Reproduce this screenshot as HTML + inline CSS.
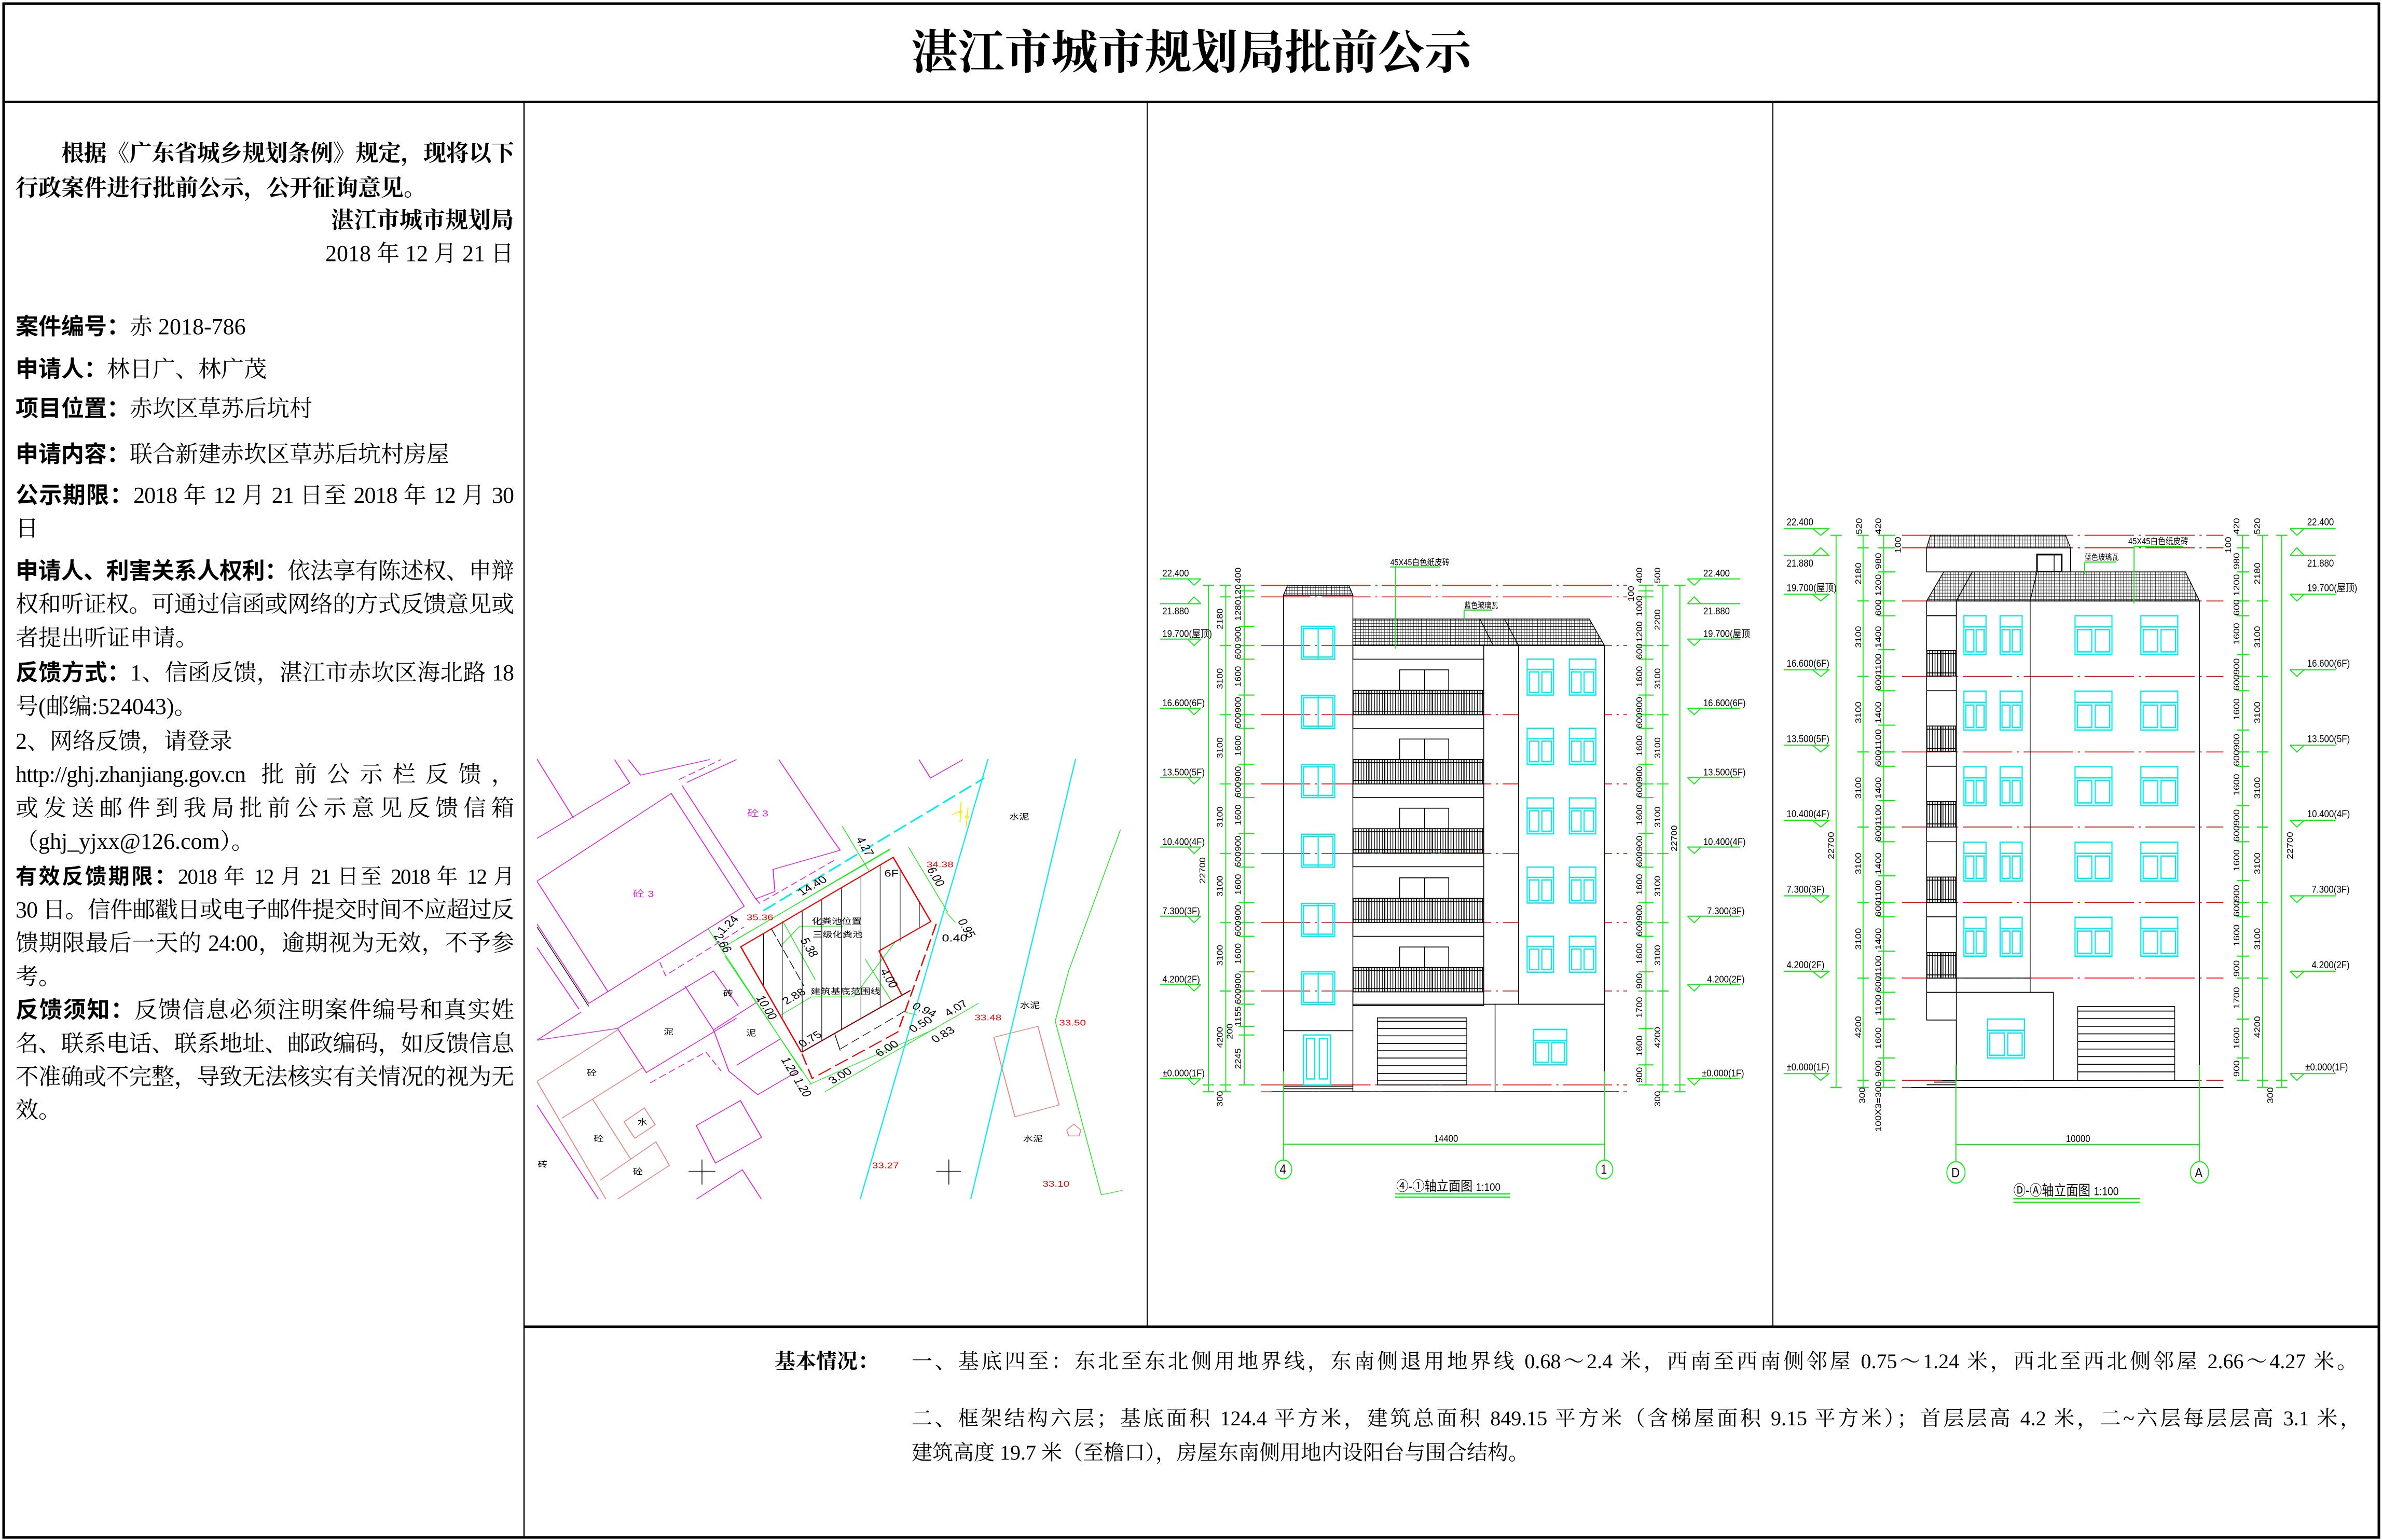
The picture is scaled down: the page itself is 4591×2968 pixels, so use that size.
<!DOCTYPE html>
<html><head><meta charset="utf-8">
<style>
html,body{margin:0;padding:0;background:#fff;}
#pg{position:relative;width:4591px;height:2968px;overflow:hidden;background:#fff;}
.t{position:absolute;font-family:"Liberation Serif","Noto Serif CJK SC",serif;font-size:44px;line-height:60px;white-space:nowrap;color:#000;}
.j{text-align:justify;text-align-last:justify;width:960px;left:30px;letter-spacing:-1px;}
.l{left:30px;}
.r{text-align:right;width:960px;left:30px;}
b{font-family:"Liberation Sans","Noto Sans CJK SC",sans-serif;font-weight:bold;}
.bt{position:absolute;font-family:"Liberation Serif","Noto Serif CJK SC",serif;font-size:40px;line-height:56px;white-space:nowrap;text-align:justify;text-align-last:justify;}
svg{position:absolute;left:0;top:0;}
</style></head><body><div id="pg">
<svg width="4591" height="2968" viewBox="0 0 4591 2968" font-family="Liberation Sans, Noto Sans CJK SC, sans-serif">
<defs>
<pattern id="tile" width="7" height="7" patternUnits="userSpaceOnUse"><rect width="7" height="7" fill="#fff"/><path d="M0 0H7M0 0V7" stroke="#000" stroke-width="2"/></pattern>
<pattern id="rail" width="7" height="10" patternUnits="userSpaceOnUse"><rect width="7" height="10" fill="#fff"/><path d="M2 0V10" stroke="#000" stroke-width="2"/></pattern>
<g id="wt" fill="none" stroke="#0ee" stroke-width="3"><rect width="88" height="77"/><rect x="5" y="5" width="78" height="67"/><line x1="44" y1="0" x2="44" y2="77"/></g>
<g id="wr" fill="none" stroke="#0ee" stroke-width="3"><rect width="70" height="84"/><line x1="0" y1="24" x2="70" y2="24"/><rect x="6" y="30" width="25" height="48"/><rect x="39" y="30" width="25" height="48"/></g>
<g id="ws" fill="none" stroke="#0ee" stroke-width="3"><rect width="58" height="87"/><line x1="0" y1="25" x2="58" y2="25"/><rect x="5" y="31" width="21" height="50"/><rect x="32" y="31" width="21" height="50"/></g>
<g id="wb" fill="none" stroke="#0ee" stroke-width="3"><rect width="97" height="87"/><line x1="0" y1="25" x2="97" y2="25"/><rect x="6" y="31" width="38" height="50"/><rect x="53" y="31" width="38" height="50"/></g>
<g id="bal" stroke="#000" stroke-width="2"><rect x="657" y="305" width="130" height="48" fill="#fff"/><line x1="723" y1="305" x2="723" y2="353"/><rect x="533" y="353" width="347" height="57" fill="url(#rail)"/><path d="M533 360H880M533 402H880M575 353V410M617 353V410M659 353V410M701 353V410M743 353V410M785 353V410M827 353V410" fill="none"/><rect x="533" y="410" width="347" height="32" fill="none"/></g>
<g id="bal2" stroke="#000" stroke-width="2"><rect x="400" y="318" width="76" height="57" fill="url(#rail)"/><path d="M400 325H476M400 368H476M438 318V375" fill="none"/></g>
<clipPath id="cp"><rect x="20" y="40" width="1525" height="1495"/></clipPath>
</defs>

<g fill="none" stroke="#000">
<rect x="7" y="7" width="4578" height="2956" stroke-width="5"/>
<line x1="7" y1="196" x2="4585" y2="196" stroke-width="4"/>
<line x1="1010" y1="196" x2="1010" y2="2963" stroke-width="2.5"/>
<line x1="2211" y1="196" x2="2211" y2="2557" stroke-width="2"/>
<line x1="3417" y1="196" x2="3417" y2="2557" stroke-width="2"/>
<line x1="1010" y1="2557" x2="4585" y2="2557" stroke-width="5"/>
</g>
<text x="2296" y="132" font-size="90" font-weight="bold" text-anchor="middle" font-family="Liberation Serif, Noto Serif CJK SC, serif">湛江市城市规划局批前公示</text>

<!-- SITE PLAN -->
<g transform="translate(1020,1440) scale(0.740,0.5676)">
<g clip-path="url(#cp)" fill="none" stroke-width="2.5">
<g stroke="#e020e0">
<polyline points="20,40 115,240"/>
<polyline points="222,42 262,122 20,310"/>
<polyline points="258,42 290,95 470,42"/>
<polygon points="20,455 370,157 560,540 205,830"/>
<polyline points="20,600 155,870 205,830"/>
<polyline points="20,995 135,900"/>
<polyline points="20,680 130,890"/>
<polyline points="398,130 590,515 640,490 635,415 810,350 780,295 650,42"/>
<polyline points="590,515 600,530 800,380" stroke-dasharray="20 10"/>
<polyline points="390,110 500,42" stroke-dasharray="20 10"/>
<polyline points="410,120 540,42"/>
<polyline points="340,730 355,775 560,610" stroke-dasharray="20 10"/>
<polyline points="20,995 230,955 480,760 545,880"/>
<polyline points="230,955 305,1105 540,920"/>
<polyline points="405,810 480,960 600,860"/>
<polyline points="480,960 520,1100 595,1180 700,1100"/>
<polyline points="315,1140 460,1035 500,1100" stroke-dasharray="20 10"/>
<polyline points="540,1080 655,990"/>
<polygon points="435,1285 550,1200 605,1325 485,1412"/>
<polyline points="435,1535 555,1435 605,1535"/>
<polyline points="1015,42 1045,105 1130,42"/>
<polyline points="20,1215 180,1535"/>
</g>
<g stroke="#f08080">
<polyline points="20,1135 230,960"/>
<polyline points="20,1135 200,1535"/>
<polyline points="85,1260 300,1085"/>
<polyline points="165,1195 265,1400"/>
<polyline points="185,1470 330,1340 365,1420 230,1535"/>
<polygon points="247,1272 300,1225 328,1282 275,1328"/>
<polygon points="1210,985 1325,948 1380,1215 1265,1255"/>
<polygon points="1400,1300 1418,1280 1437,1300 1432,1320 1405,1320"/>
</g>
<g stroke="#1e1" stroke-width="2">
<polyline points="1540,280 1405,760 1370,930 1490,1520 1545,1505"/>
<line x1="540" y1="652" x2="940" y2="348"/>
<line x1="505" y1="680" x2="940" y2="345"/>
<line x1="465" y1="615" x2="710" y2="1100"/>
<line x1="510" y1="710" x2="735" y2="1145"/>
<line x1="815" y1="268" x2="885" y2="420"/>
<line x1="988" y1="340" x2="1090" y2="560"/>
<line x1="1085" y1="560" x2="1110" y2="595"/>
<line x1="660" y1="590" x2="745" y2="790"/>
<line x1="770" y1="1170" x2="1170" y2="870"/>
<line x1="730" y1="1145" x2="1060" y2="955"/>
<line x1="875" y1="720" x2="945" y2="865"/>
<line x1="735" y1="848" x2="845" y2="848"/>
<line x1="845" y1="848" x2="955" y2="658"/>
<line x1="655" y1="910" x2="735" y2="848"/>
<line x1="705" y1="608" x2="818" y2="608"/>
<line x1="655" y1="675" x2="705" y2="608"/>
<line x1="980" y1="900" x2="1010" y2="910"/>
</g>
<g stroke="#0ee" stroke-width="3">
<line x1="1195" y1="40" x2="862" y2="1535"/>
<line x1="1423" y1="40" x2="1150" y2="1535"/>
<line x1="610" y1="555" x2="1185" y2="105" stroke-width="5" stroke-dasharray="40 14"/>
</g>
<g stroke="#000" stroke-width="2">
<line x1="20" y1="610" x2="155" y2="880"/>
<line x1="415" y1="1440" x2="485" y2="1440"/><line x1="450" y1="1400" x2="450" y2="1485"/>
<line x1="1060" y1="1440" x2="1125" y2="1440"/><line x1="1093" y1="1400" x2="1093" y2="1485"/>
<path d="M610 633V812M659 595V922M711 555V1034M762 516V997M813 477V959M864 438V921M914 400V884M966 414V660M1016 525V610" stroke-width="1.6"/>
<line x1="630" y1="615" x2="715" y2="810" stroke-dasharray="30 10"/>
<line x1="810" y1="1025" x2="980" y2="895" stroke-dasharray="25 12"/>
<line x1="796" y1="975" x2="810" y2="1030"/>
</g>
<g stroke="#e00" stroke-width="3.5">
<polyline points="709,1036 551,678 948,374 1046,592 911,692 970,840"/>
<line x1="709" y1="1036" x2="993" y2="826" stroke="#800"/>
<polyline points="1060,600 960,967 737,1125 709,1036" stroke-dasharray="40 14"/>
</g>
<g stroke="#ee0" stroke-width="2.5"><line x1="1125" y1="185" x2="1122" y2="255"/><line x1="1143" y1="205" x2="1138" y2="270"/><line x1="1100" y1="230" x2="1125" y2="215"/><circle cx="1124" cy="220" r="4"/><circle cx="1140" cy="237" r="4"/></g>
</g>
<g clip-path="url(#cp)" font-size="30">
<text x="568" y="235" fill="#e020e0">砼 3</text>
<text x="270" y="508" fill="#e020e0">砼 3</text>
<text x="925" y="440" font-size="32">6F</text>
<g fill="#e00" font-size="28"><text x="566" y="588">35.36</text><text x="1035" y="408">34.38</text><text x="1160" y="928">33.48</text><text x="1380" y="945">33.50</text><text x="893" y="1430">33.27</text><text x="1337" y="1492">33.10</text></g>
<g font-size="26"><text x="736" y="600">化粪池位置</text><text x="738" y="645">三级化粪池</text><text x="733" y="838">建筑基底范围线</text>
<text x="1250" y="245">水泥</text><text x="1278" y="885">水泥</text><text x="1286" y="1338">水泥</text>
<text x="505" y="845">砖</text><text x="350" y="975">泥</text><text x="565" y="980">泥</text><text x="150" y="1115">砼</text><text x="168" y="1338">砼</text><text x="282" y="1282">水</text><text x="270" y="1450">砼</text><text x="22" y="1425">砖</text></g>
<g font-size="34">
<text transform="translate(710,505) rotate(-37)">14.40</text>
<text transform="translate(1035,415) rotate(65)">6.00</text>
<text transform="translate(850,312) rotate(65)">4.27</text>
<text transform="translate(590,850) rotate(65)">10.00</text>
<text transform="translate(705,655) rotate(65)">5.38</text>
<text transform="translate(670,875) rotate(-37)">2.88</text>
<text transform="translate(913,760) rotate(65)">4.00</text>
<text transform="translate(712,1020) rotate(-37)">0.75</text>
<text transform="translate(655,1060) rotate(65)">1.20</text>
<text transform="translate(688,1130) rotate(65)">1.20</text>
<text transform="translate(790,1145) rotate(-37)">3.00</text>
<text transform="translate(912,1052) rotate(-37)">6.00</text>
<text transform="translate(995,885) rotate(30)">0.94</text>
<text transform="translate(1000,970) rotate(-37)">0.50</text>
<text transform="translate(1058,1005) rotate(-37)">0.83</text>
<text transform="translate(1092,915) rotate(-37)">4.07</text>
<text transform="translate(1115,590) rotate(65)">0.95</text>
<text transform="translate(1075,660)">0.40</text>
<text transform="translate(480,640) rotate(65)">2.66</text>
<text transform="translate(505,635) rotate(-50)">1.24</text>
</g>
</g>
</g>

<!-- ELEVATION 1 -->
<g transform="translate(2220,1040) scale(0.727,0.823)">
<g stroke="#f00" stroke-width="2" stroke-dasharray="130 12 6 12">
<path d="M290 107H1260M290 134H1260M290 248H1260M290 410H1260M290 572H1260M290 735H1260M290 897H1260M290 1057H1260M290 1277H1260M290 1293H1260"/>
</g>
<g stroke="#000" stroke-width="2" fill="none">
<polygon points="349,130 360,107 522,107 533,130" fill="url(#tile)"/>
<rect x="349" y="130" width="184" height="1020"/>
<line x1="349" y1="1150" x2="349" y2="1293"/>
<polygon points="533,248 533,186 1160,186 1200,248" fill="url(#tile)"/>
<line x1="870" y1="186" x2="905" y2="248"/><line x1="935" y1="186" x2="972" y2="248"/>
<rect x="972" y="248" width="228" height="840" fill="#fff"/>
<rect x="533" y="248" width="347" height="32"/>
<line x1="880" y1="280" x2="880" y2="1088"/>
<line x1="533" y1="1088" x2="910" y2="1088"/>
<line x1="533" y1="1150" x2="533" y2="1293"/>
<rect x="910" y="1088" width="290" height="205"/>
<line x1="318" y1="1293" x2="1237" y2="1293"/>
<path d="M349 1280H533M349 1286H533"/>
<rect x="598" y="1120" width="237" height="157"/>
<path d="M598 1128H835M598 1145H835M598 1162H835M598 1180H835M598 1197H835M598 1214H835M598 1232H835M598 1250H835M598 1266H835"/>
</g>
<use href="#bal"/><use href="#bal" y="162"/><use href="#bal" y="324"/><use href="#bal" y="487"/><use href="#bal" y="649"/>
<use href="#wt" x="397" y="203"/><use href="#wt" x="397" y="365"/><use href="#wt" x="397" y="527"/><use href="#wt" x="397" y="690"/><use href="#wt" x="397" y="852"/><use href="#wt" x="397" y="1012"/>
<use href="#wr" x="995" y="280"/><use href="#wr" x="1107" y="280"/><use href="#wr" x="995" y="442"/><use href="#wr" x="1107" y="442"/><use href="#wr" x="995" y="605"/><use href="#wr" x="1107" y="605"/><use href="#wr" x="995" y="767"/><use href="#wr" x="1107" y="767"/><use href="#wr" x="995" y="929"/><use href="#wr" x="1107" y="929"/>
<g fill="none" stroke="#0ee" stroke-width="3"><rect x="402" y="1160" width="72" height="117"/><rect x="410" y="1168" width="22" height="95"/><rect x="444" y="1168" width="22" height="95"/>
<rect x="1012" y="1147" width="88" height="83"/><line x1="1012" y1="1173" x2="1100" y2="1173"/><rect x="1018" y="1178" width="34" height="46"/><rect x="1060" y="1178" width="34" height="46"/></g>
<g stroke="#1e1" stroke-width="2.5" fill="none">
<path d="M646 62V255M632 64H765M828 165H903M828 165V190"/>
<path d="M150 107V1293M196 107V1293M245 107V1277M1310 107V1277M1355 107V1293M1400 107V1293"/>
<path d="M135 107H165M135 1277H165M135 1293H165M180 107H210M180 134H210M180 248H210M180 410H210M180 572H210M180 735H210M180 897H210M180 1057H210M180 1277H210M180 1293H210"/>
<path d="M230 107H272M230 120H272M230 134H272M230 203H272M230 248H272M230 280H272M230 364H272M230 410H272M230 442H272M230 526H272M230 572H272M230 604H272M230 688H272M230 735H272M230 767H272M230 850H272M230 897H272M230 929H272M230 1012H272M230 1057H272M230 1088H272M230 1140H272M230 1160H272M230 1277H272"/>
<path d="M1290 107H1330M1290 120H1330M1290 134H1330M1290 248H1330M1290 280H1330M1290 364H1330M1290 410H1330M1290 442H1330M1290 526H1330M1290 572H1330M1290 604H1330M1290 688H1330M1290 735H1330M1290 767H1330M1290 850H1330M1290 897H1330M1290 929H1330M1290 1012H1330M1290 1057H1330M1290 1145H1330M1290 1230H1330M1290 1277H1330"/>
<path d="M1340 107H1370M1340 248H1370M1340 410H1370M1340 572H1370M1340 735H1370M1340 897H1370M1340 1057H1370M1340 1277H1370M1340 1293H1370M1385 107H1415M1385 1277H1415M1385 1293H1415"/>
<path d="M22 92H130M22 150H130M22 233H130M22 395H130M22 557H130M22 720H130M22 882H130M22 1042H130M22 1262H130"/>
<path d="M95 92L112 107L130 92M95 150L112 134L130 150M95 233L112 248L130 233M95 395L112 410L130 395M95 557L112 572L130 557M95 720L112 735L130 720M95 882L112 897L130 882M95 1042L112 1057L130 1042M95 1262L112 1277L130 1262"/>
<path d="M1420 92H1560M1420 150H1560M1420 233H1560M1420 395H1560M1420 557H1560M1420 720H1560M1420 882H1560M1420 1042H1560M1420 1262H1560"/>
<path d="M1420 92L1438 107L1455 92M1420 150L1438 134L1455 150M1420 233L1438 248L1455 233M1420 395L1438 410L1455 395M1420 557L1438 572L1455 557M1420 720L1438 735L1455 720M1420 882L1438 897L1455 882M1420 1042L1438 1057L1455 1042M1420 1262L1438 1277L1455 1262"/>
<path d="M349 1245V1453M1200 1245V1453M349 1416H1200"/>
<circle cx="349" cy="1475" r="22"/><circle cx="1200" cy="1475" r="22"/>
<path d="M645 1532H950M645 1540H950" stroke-width="3"/>
</g>
<g font-size="23" fill="#000">
<text x="28" y="86">22.400</text><text x="28" y="175">21.880</text><text x="28" y="228">19.700(屋顶)</text><text x="28" y="390">16.600(6F)</text><text x="28" y="552">13.500(5F)</text><text x="28" y="715">10.400(4F)</text><text x="28" y="877">7.300(3F)</text><text x="28" y="1037">4.200(2F)</text><text x="28" y="1257">±0.000(1F)</text>
<text x="1462" y="86">22.400</text><text x="1462" y="175">21.880</text><text x="1462" y="228">19.700(屋顶</text><text x="1462" y="390">16.600(6F)</text><text x="1462" y="552">13.500(5F)</text><text x="1462" y="715">10.400(4F)</text><text x="1472" y="877">7.300(3F)</text><text x="1472" y="1037">4.200(2F)</text><text x="1458" y="1257">±0.000(1F)</text>
<text x="632" y="60" font-size="20">45X45白色纸皮砖</text><text x="828" y="160" font-size="18">蓝色玻璃瓦</text>
<text x="748" y="1410">14400</text>
<text x="339" y="1485" font-size="30">4</text><text x="1190" y="1485" font-size="30">1</text>
<text x="648" y="1525" font-size="32">④-①轴立面图 <tspan font-size="26">1:100</tspan></text>
</g>
<g font-size="22" fill="#000">
<text transform="translate(188,210) rotate(-90)">2180</text>
<text transform="translate(188,350) rotate(-90)">3100</text><text transform="translate(188,512) rotate(-90)">3100</text><text transform="translate(188,674) rotate(-90)">3100</text><text transform="translate(188,836) rotate(-90)">3100</text><text transform="translate(188,998) rotate(-90)">3100</text><text transform="translate(188,1190) rotate(-90)">4200</text>
<text transform="translate(142,805) rotate(-90)">22700</text><text transform="translate(188,1328) rotate(-90)">300</text>
<text transform="translate(236,102) rotate(-90)">400</text><text transform="translate(236,190) rotate(-90)">1280120</text>
<text transform="translate(236,240) rotate(-90)">900</text><text transform="translate(236,280) rotate(-90)">600</text><text transform="translate(236,345) rotate(-90)">1600</text><text transform="translate(236,405) rotate(-90)">900</text><text transform="translate(236,442) rotate(-90)">600</text><text transform="translate(236,507) rotate(-90)">1600</text><text transform="translate(236,567) rotate(-90)">900</text><text transform="translate(236,604) rotate(-90)">600</text><text transform="translate(236,669) rotate(-90)">1600</text><text transform="translate(236,730) rotate(-90)">900</text><text transform="translate(236,767) rotate(-90)">600</text><text transform="translate(236,832) rotate(-90)">1600</text><text transform="translate(236,892) rotate(-90)">900</text><text transform="translate(236,929) rotate(-90)">600</text><text transform="translate(236,994) rotate(-90)">1600</text><text transform="translate(236,1052) rotate(-90)">900</text><text transform="translate(236,1088) rotate(-90)">600</text><text transform="translate(236,1140) rotate(-90)">1155</text><text transform="translate(214,1170) rotate(-90)">200</text><text transform="translate(236,1240) rotate(-90)">2245</text>
<text transform="translate(1300,102) rotate(-90)">400</text><text transform="translate(1278,145) rotate(-90)">100</text><text transform="translate(1300,180) rotate(-90)">1000</text><text transform="translate(1300,240) rotate(-90)">1200</text><text transform="translate(1300,280) rotate(-90)">600</text><text transform="translate(1300,345) rotate(-90)">1600</text><text transform="translate(1300,405) rotate(-90)">900</text><text transform="translate(1300,442) rotate(-90)">600</text><text transform="translate(1300,507) rotate(-90)">1600</text><text transform="translate(1300,567) rotate(-90)">900</text><text transform="translate(1300,604) rotate(-90)">600</text><text transform="translate(1300,669) rotate(-90)">1600</text><text transform="translate(1300,730) rotate(-90)">900</text><text transform="translate(1300,767) rotate(-90)">600</text><text transform="translate(1300,832) rotate(-90)">1600</text><text transform="translate(1300,892) rotate(-90)">900</text><text transform="translate(1300,929) rotate(-90)">600</text><text transform="translate(1300,994) rotate(-90)">1600</text><text transform="translate(1300,1052) rotate(-90)">900</text><text transform="translate(1300,1120) rotate(-90)">1700</text><text transform="translate(1300,1210) rotate(-90)">1600</text><text transform="translate(1300,1272) rotate(-90)">900</text>
<text transform="translate(1348,102) rotate(-90)">500</text><text transform="translate(1348,212) rotate(-90)">2200</text><text transform="translate(1348,350) rotate(-90)">3100</text><text transform="translate(1348,512) rotate(-90)">3100</text><text transform="translate(1348,674) rotate(-90)">3100</text><text transform="translate(1348,836) rotate(-90)">3100</text><text transform="translate(1348,998) rotate(-90)">3100</text><text transform="translate(1348,1190) rotate(-90)">4200</text><text transform="translate(1348,1328) rotate(-90)">300</text><text transform="translate(1392,730) rotate(-90)">22700</text>
</g>
</g>

<!-- ELEVATION 2 -->
<g transform="translate(3420,980) scale(0.7334,0.861)">
<g stroke="#f00" stroke-width="2" stroke-dasharray="130 12 6 12">
<path d="M335 60H1180M335 88H1180M335 207H1180M335 376H1180M335 545H1180M335 713H1180M335 882H1180M335 1051H1180M335 1280H1180M335 1296H1180"/>
</g>
<g stroke="#000" stroke-width="2" fill="none">
<polygon points="400,88 410,60 765,60 778,88" fill="url(#tile)"/>
<rect x="400" y="88" width="378" height="54"/>
<rect x="690" y="103" width="65" height="39" stroke-width="4"/><line x1="735" y1="103" x2="735" y2="142"/>
<polygon points="400,207 445,142 1080,142 1117,207" fill="url(#tile)"/>
<line x1="520" y1="142" x2="478" y2="207"/><line x1="690" y1="142" x2="672" y2="207"/>
<path d="M400 207V1145H478V1280"/>
<rect x="478" y="207" width="639" height="1073"/>
<path d="M672 207V1083M400 1083H733V1280M478 207V1083M400 240H478M400 408H478M400 577H478M400 746H478M400 914H478M400 1051H672"/>
<line x1="360" y1="1296" x2="1180" y2="1296"/>
<path d="M400 1290H478M420 1284H478M440 1280H478"/>
<rect x="797" y="1115" width="255" height="165"/>
<path d="M797 1125H1052M797 1142H1052M797 1159H1052M797 1176H1052M797 1193H1052M797 1210H1052M797 1227H1052M797 1244H1052M797 1261H1052"/>
</g>
<use href="#bal2"/><use href="#bal2" y="169"/><use href="#bal2" y="338"/><use href="#bal2" y="507"/><use href="#bal2" y="676"/>
<use href="#ws" x="498" y="240"/><use href="#ws" x="593" y="240"/><use href="#wb" x="790" y="240"/><use href="#wb" x="963" y="240"/>
<use href="#ws" x="498" y="409"/><use href="#ws" x="593" y="409"/><use href="#wb" x="790" y="409"/><use href="#wb" x="963" y="409"/>
<use href="#ws" x="498" y="578"/><use href="#ws" x="593" y="578"/><use href="#wb" x="790" y="578"/><use href="#wb" x="963" y="578"/>
<use href="#ws" x="498" y="747"/><use href="#ws" x="593" y="747"/><use href="#wb" x="790" y="747"/><use href="#wb" x="963" y="747"/>
<use href="#ws" x="498" y="915"/><use href="#ws" x="593" y="915"/><use href="#wb" x="790" y="915"/><use href="#wb" x="963" y="915"/>
<use href="#wb" x="560" y="1143"/>
<g stroke="#1e1" stroke-width="2.5" fill="none">
<path d="M945 85V213M945 85H1075M815 120H898M815 120V148"/>
<path d="M162 60V1296M233 60V1296M287 60V1296M1230 60V1280M1283 60V1296M1333 60V1296"/>
<path d="M147 60H177M147 1296H177M218 60H248M218 88H248M218 207H248M218 376H248M218 545H248M218 713H248M218 882H248M218 1051H248M218 1280H248M218 1296H248"/>
<path d="M272 60H318M272 88H318M272 142H318M272 207H318M272 240H318M272 316H318M272 376H318M272 408H318M272 485H318M272 545H318M272 577H318M272 654H318M272 713H318M272 746H318M272 822H318M272 882H318M272 914H318M272 991H318M272 1051H318M272 1083H318M272 1143H318M272 1230H318M272 1280H318M272 1296H318"/>
<path d="M1215 60H1248M1215 88H1248M1215 142H1248M1215 207H1248M1215 240H1248M1215 327H1248M1215 376H1248M1215 408H1248M1215 496H1248M1215 545H1248M1215 577H1248M1215 665H1248M1215 713H1248M1215 746H1248M1215 833H1248M1215 882H1248M1215 914H1248M1215 1002H1248M1215 1051H1248M1215 1143H1248M1215 1230H1248M1215 1280H1248"/>
<path d="M1268 60H1298M1268 207H1298M1268 376H1298M1268 545H1298M1268 713H1298M1268 882H1298M1268 1051H1298M1268 1280H1298M1268 1296H1298M1318 60H1348M1318 1280H1348M1318 1296H1348"/>
<path d="M25 45H145M25 105H145M25 192H145M25 361H145M25 530H145M25 698H145M25 867H145M25 1036H145M25 1265H145"/>
<path d="M100 45L122 60L143 45M100 105L122 88L143 105M100 192L122 207L143 192M100 361L122 376L143 361M100 530L122 545L143 530M100 698L122 713L143 698M100 867L122 882L143 867M100 1036L122 1051L143 1036M100 1265L122 1280L143 1265"/>
<path d="M1355 45H1475M1355 105H1475M1355 192H1475M1355 361H1475M1355 530H1475M1355 698H1475M1355 867H1475M1355 1036H1475M1355 1265H1475"/>
<path d="M1355 45L1373 60L1392 45M1355 105L1373 88L1392 105M1355 192L1373 207L1392 192M1355 361L1373 376L1392 361M1355 530L1373 545L1392 530M1355 698L1373 713L1392 698M1355 867L1373 882L1392 867M1355 1036L1373 1051L1392 1036M1355 1265L1373 1280L1392 1265"/>
<path d="M477 1245V1462M1117 1245V1462M477 1424H1117"/>
<circle cx="477" cy="1486" r="24"/><circle cx="1117" cy="1486" r="24"/>
<path d="M628 1545H960M628 1553H960" stroke-width="3"/>
</g>
<g font-size="23" fill="#000">
<text x="32" y="38">22.400</text><text x="32" y="130">21.880</text><text x="32" y="185">19.700(屋顶)</text><text x="32" y="354">16.600(6F)</text><text x="32" y="523">13.500(5F)</text><text x="32" y="691">10.400(4F)</text><text x="32" y="860">7.300(3F)</text><text x="32" y="1029">4.200(2F)</text><text x="32" y="1258">±0.000(1F)</text>
<text x="1400" y="38">22.400</text><text x="1400" y="130">21.880</text><text x="1400" y="185">19.700(屋顶)</text><text x="1400" y="354">16.600(6F)</text><text x="1400" y="523">13.500(5F)</text><text x="1400" y="691">10.400(4F)</text><text x="1412" y="860">7.300(3F)</text><text x="1412" y="1029">4.200(2F)</text><text x="1395" y="1258">±0.000(1F)</text>
<text x="930" y="80" font-size="20">45X45白色纸皮砖</text><text x="815" y="115" font-size="18">蓝色玻璃瓦</text>
<text x="766" y="1418">10000</text>
<text x="465" y="1497" font-size="30">D</text><text x="1105" y="1497" font-size="30">A</text>
<text x="628" y="1537" font-size="32">Ⓓ-Ⓐ轴立面图 <tspan font-size="26">1:100</tspan></text>
</g>
<g font-size="22" fill="#000">
<text transform="translate(228,170) rotate(-90)">2180</text>
<text transform="translate(228,312) rotate(-90)">3100</text><text transform="translate(228,481) rotate(-90)">3100</text><text transform="translate(228,650) rotate(-90)">3100</text><text transform="translate(228,819) rotate(-90)">3100</text><text transform="translate(228,988) rotate(-90)">3100</text><text transform="translate(228,1185) rotate(-90)">4200</text>
<text transform="translate(156,785) rotate(-90)">22700</text><text transform="translate(238,1332) rotate(-90)">300</text><text transform="translate(280,1395) rotate(-90)">100X3=300</text>
<text transform="translate(280,58) rotate(-90)">420</text><text transform="translate(280,136) rotate(-90)">980</text><text transform="translate(280,196) rotate(-90)">1200</text><text transform="translate(280,240) rotate(-90)">600</text><text transform="translate(280,312) rotate(-90)">1400</text><text transform="translate(280,372) rotate(-90)">1100</text>
<text transform="translate(280,408) rotate(-90)">600</text><text transform="translate(280,481) rotate(-90)">1400</text><text transform="translate(280,541) rotate(-90)">1100</text><text transform="translate(280,577) rotate(-90)">600</text><text transform="translate(280,650) rotate(-90)">1400</text><text transform="translate(280,710) rotate(-90)">1100</text><text transform="translate(280,746) rotate(-90)">600</text><text transform="translate(280,819) rotate(-90)">1400</text><text transform="translate(280,879) rotate(-90)">1100</text><text transform="translate(280,914) rotate(-90)">600</text><text transform="translate(280,988) rotate(-90)">1400</text><text transform="translate(280,1048) rotate(-90)">1100</text><text transform="translate(280,1083) rotate(-90)">600</text><text transform="translate(280,1135) rotate(-90)">1100</text><text transform="translate(280,1210) rotate(-90)">1600</text><text transform="translate(280,1272) rotate(-90)">900</text>
<text transform="translate(230,58) rotate(-90)">520</text><text transform="translate(332,100) rotate(-90)">100</text>
<text transform="translate(1222,58) rotate(-90)">420</text><text transform="translate(1200,100) rotate(-90)">100</text><text transform="translate(1222,136) rotate(-90)">980</text><text transform="translate(1222,196) rotate(-90)">1200</text><text transform="translate(1222,240) rotate(-90)">600</text><text transform="translate(1222,305) rotate(-90)">1600</text><text transform="translate(1222,372) rotate(-90)">900</text><text transform="translate(1222,408) rotate(-90)">600</text><text transform="translate(1222,474) rotate(-90)">1600</text><text transform="translate(1222,541) rotate(-90)">900</text><text transform="translate(1222,577) rotate(-90)">600</text><text transform="translate(1222,643) rotate(-90)">1600</text><text transform="translate(1222,710) rotate(-90)">900</text><text transform="translate(1222,746) rotate(-90)">600</text><text transform="translate(1222,812) rotate(-90)">1600</text><text transform="translate(1222,879) rotate(-90)">900</text><text transform="translate(1222,914) rotate(-90)">600</text><text transform="translate(1222,980) rotate(-90)">1600</text><text transform="translate(1222,1048) rotate(-90)">900</text><text transform="translate(1222,1120) rotate(-90)">1700</text><text transform="translate(1222,1210) rotate(-90)">1600</text><text transform="translate(1222,1272) rotate(-90)">900</text>
<text transform="translate(1276,58) rotate(-90)">520</text><text transform="translate(1276,170) rotate(-90)">2180</text><text transform="translate(1276,312) rotate(-90)">3100</text><text transform="translate(1276,481) rotate(-90)">3100</text><text transform="translate(1276,650) rotate(-90)">3100</text><text transform="translate(1276,819) rotate(-90)">3100</text><text transform="translate(1276,988) rotate(-90)">3100</text><text transform="translate(1276,1185) rotate(-90)">4200</text><text transform="translate(1310,1332) rotate(-90)">300</text><text transform="translate(1362,785) rotate(-90)">22700</text>
</g>
</g>
</svg>

<div class="t j" style="top:266px;text-indent:88px;font-weight:bold;">根据《广东省城乡规划条例》规定，现将以下</div>
<div class="t l" style="top:333px;font-weight:bold;">行政案件进行批前公示，公开征询意见。</div>
<div class="t r" style="top:395px;font-weight:bold;">湛江市城市规划局</div>
<div class="t r" style="top:459px;">2018 年 12 月 21 日</div>
<div class="t l" style="top:600px;"><b>案件编号：</b>赤 2018-786</div>
<div class="t l" style="top:682px;"><b>申请人：</b>林日广、林广茂</div>
<div class="t l" style="top:758px;"><b>项目位置：</b>赤坎区草苏后坑村</div>
<div class="t l" style="top:846px;"><b>申请内容：</b>联合新建赤坎区草苏后坑村房屋</div>
<div class="t j" style="top:925px;"><b>公示期限：</b>2018 年 12 月 21 日至 2018 年 12 月 30</div>
<div class="t l" style="top:989px;">日</div>
<div class="t j" style="top:1071px;"><b>申请人、利害关系人权利：</b>依法享有陈述权、申辩</div>
<div class="t j" style="top:1135px;">权和听证权。可通过信函或网络的方式反馈意见或</div>
<div class="t l" style="top:1200px;">者提出听证申请。</div>
<div class="t j" style="top:1267px;"><b>反馈方式：</b>1、信函反馈，湛江市赤坎区海北路 18</div>
<div class="t l" style="top:1332px;">号(邮编:524043)。</div>
<div class="t l" style="top:1399px;">2、网络反馈，请登录</div>
<div class="t j" style="top:1463px;">http://ghj.zhanjiang.gov.cn 批前公示栏反馈，</div>
<div class="t j" style="top:1528px;">或发送邮件到我局批前公示意见反馈信箱</div>
<div class="t l" style="top:1592px;">（ghj_yjxx@126.com）。</div>
<div class="t j" style="top:1659px;font-size:41px;letter-spacing:-2px;"><b>有效反馈期限：</b>2018 年 12 月 21 日至 2018 年 12 月</div>
<div class="t j" style="top:1724px;">30 日。信件邮戳日或电子邮件提交时间不应超过反</div>
<div class="t j" style="top:1788px;">馈期限最后一天的 24:00，逾期视为无效，不予参</div>
<div class="t l" style="top:1853px;">考。</div>
<div class="t j" style="top:1917px;"><b>反馈须知：</b>反馈信息必须注明案件编号和真实姓</div>
<div class="t j" style="top:1982px;">名、联系电话、联系地址、邮政编码，如反馈信息</div>
<div class="t j" style="top:2046px;">不准确或不完整，导致无法核实有关情况的视为无</div>
<div class="t l" style="top:2110px;">效。</div>

<div class="bt" style="left:1493px;top:2596px;font-weight:bold;text-align:left;text-align-last:left;">基本情况：</div>
<div class="bt" style="left:1757px;top:2596px;width:2787px;">一、基底四至：东北至东北侧用地界线，东南侧退用地界线 0.68～2.4 米，西南至西南侧邻屋 0.75～1.24 米，西北至西北侧邻屋 2.66～4.27 米。</div>
<div class="bt" style="left:1757px;top:2706px;width:2793px;">二、框架结构六层；基底面积 124.4 平方米，建筑总面积 849.15 平方米（含梯屋面积 9.15 平方米）；首层层高 4.2 米，二~六层每层层高 3.1 米，</div>
<div class="bt" style="left:1757px;top:2772px;text-align:left;text-align-last:left;">建筑高度 19.7 米（至檐口），房屋东南侧用地内设阳台与围合结构。</div>
</div></body></html>
